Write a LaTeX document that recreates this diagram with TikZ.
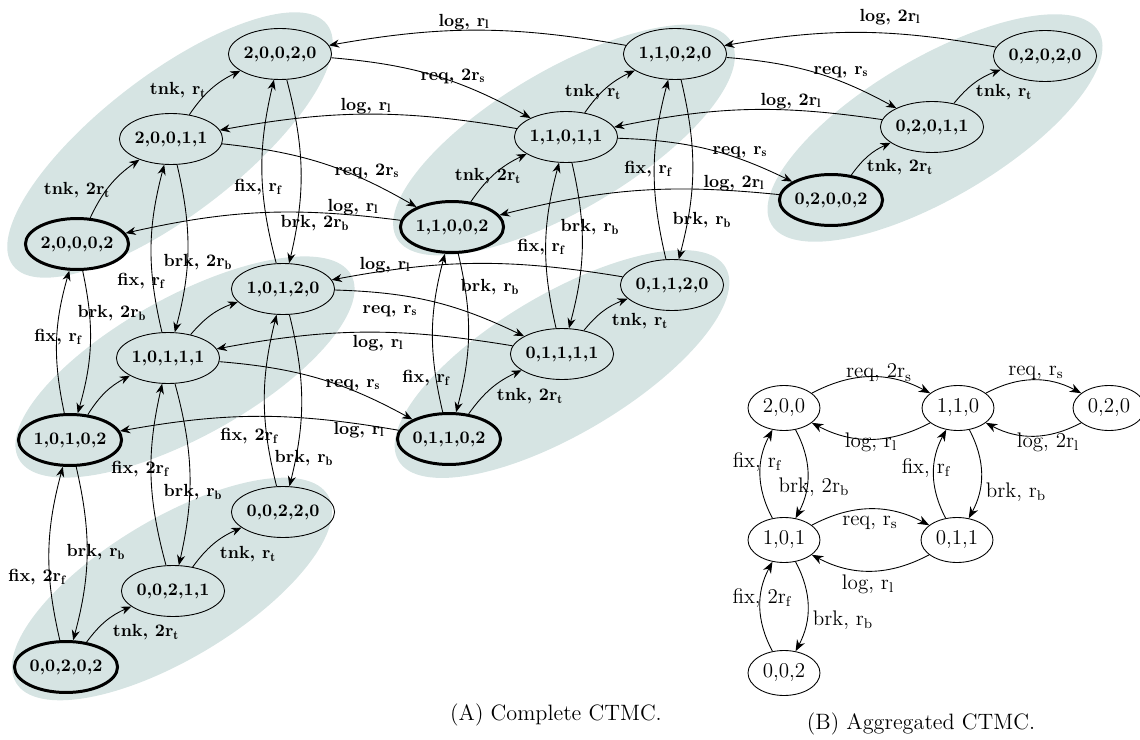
\documentclass[tikz,border=0pt]{standalone}
\usepackage{fontspec}
\usetikzlibrary{arrows.meta,shapes.geometric}
\definecolor{blobc}{RGB}{214,228,227}
\newcommand{\elab}[3]{#1, #2r$_{\mathbf{#3}}$}
\newcommand{\alab}[3]{#1, #2r$_{\mathrm{#3}}$}
\begin{document}
\begin{tikzpicture}[x=0.02cm, y=-0.02cm,
  st/.style={ellipse, draw, line width=0.5pt, minimum width=1.92cm, minimum height=1.02cm, inner sep=0pt, font=\bfseries},
  stb/.style={st, line width=1.7pt},
  ag/.style={ellipse, draw, line width=0.5pt, minimum width=1.44cm, minimum height=0.9cm, inner sep=0pt, font=\fontsize{12}{14}\selectfont},
  tr/.style={-{Stealth[length=5.8pt,width=4.6pt]}, line width=0.5pt},
  atr/.style={-{Stealth[length=6.5pt,width=5pt]}, line width=0.5pt},
  lb/.style={font=\bfseries, inner sep=0pt},
  alb/.style={font=\fontsize{12}{14}\selectfont, inner sep=0pt},
  captxt/.style={font=\fontsize{12.65}{15}\selectfont, inner sep=0pt},
  blob/.style={fill=blobc}]
\useasboundingbox (0,0) rectangle (1140,740);
% background groups
\fill[blob, rotate around={37.5:(170,145)}] (170,145) ellipse [x radius=3.96cm, y radius=1.4cm];
\fill[blob, rotate around={30.5:(564,140)}] (564,140) ellipse [x radius=3.88cm, y radius=1.4cm];
\fill[blob, rotate around={30.5:(935,128)}] (935,128) ellipse [x radius=3.8cm, y radius=1.4cm];
\fill[blob, rotate around={29:(185,367)}] (185,367) ellipse [x radius=3.8cm, y radius=1.4cm];
\fill[blob, rotate around={30.6:(562,364)}] (562,364) ellipse [x radius=3.8cm, y radius=1.4cm];
\fill[blob, rotate around={31:(172,589)}] (172,589) ellipse [x radius=3.64cm, y radius=1.4cm];
% complete CTMC states
\node[st]  (a20020) at (280,54)  {2,0,0,2,0};
\node[st]  (a20011) at (171,139) {2,0,0,1,1};
\node[stb] (a20002) at (77,244)  {2,0,0,0,2};
\node[st]  (a11020) at (675,54)  {1,1,0,2,0};
\node[st]  (a11011) at (566,137) {1,1,0,1,1};
\node[stb] (a11002) at (452,227) {1,1,0,0,2};
\node[st]  (a02020) at (1045,56) {0,2,0,2,0};
\node[st]  (a02011) at (932,127) {0,2,0,1,1};
\node[stb] (a02002) at (831,200) {0,2,0,0,2};
\node[st]  (a10120) at (283,289) {1,0,1,2,0};
\node[st]  (a10111) at (168,358) {1,0,1,1,1};
\node[stb] (a10102) at (70,440)  {1,0,1,0,2};
\node[st]  (a01120) at (672,285) {0,1,1,2,0};
\node[st]  (a01111) at (562,354) {0,1,1,1,1};
\node[stb] (a01102) at (449,439) {0,1,1,0,2};
\node[st]  (a00220) at (283,512) {0,0,2,2,0};
\node[st]  (a00211) at (173,591) {0,0,2,1,1};
\node[stb] (a00202) at (66,667)  {0,0,2,0,2};
% tnk transitions
\draw[tr] (a20002) to[bend left=15] (a20011) node[lb] (l1) at (77,190) {\elab{tnk}{2}{t}};
\draw[tr] (a20011) to[bend left=15] (a20020) node[lb] (l2) at (178,90) {\elab{tnk}{}{t}};
\draw[tr] (a11002) to[bend left=15] (a11011) node[lb] (l3) at (488,176) {\elab{tnk}{2}{t}};
\draw[tr] (a11011) to[bend left=15] (a11020) node[lb] (l4) at (593,92) {\elab{tnk}{}{t}};
\draw[tr] (a02002) to[bend left=15] (a02011) node[lb] (l5) at (900,167) {\elab{tnk}{2}{t}};
\draw[tr] (a02011) to[bend left=15] (a02020) node[lb] (l6) at (1004,92) {\elab{tnk}{}{t}};
\draw[tr] (a10102) to[bend left=15] (a10111);
\draw[tr] (a10111) to[bend left=15] (a10120);
\draw[tr] (a01102) to[bend left=15] (a01111) node[lb] (l9) at (530,396) {\elab{tnk}{2}{t}};
\draw[tr] (a01111) to[bend left=15] (a01120) node[lb] (l10) at (640,321) {\elab{tnk}{}{t}};
\draw[tr] (a00202) to[bend left=15] (a00211) node[lb] (l11) at (146,632) {\elab{tnk}{2}{t}};
\draw[tr] (a00211) to[bend left=15] (a00220) node[lb] (l12) at (248,554) {\elab{tnk}{}{t}};
% fix / brk transitions
\draw[tr] (a10102) to[bend left=14] (a20002) node[lb] (l13) at (58,337) {\elab{fix}{}{f}};
\draw[tr] (a20002) to[bend left=14] (a10102) node[lb] (l14) at (112,313) {\elab{brk}{2}{b}};
\draw[tr] (a10111) to[bend left=14] (a20011) node[lb] (l15) at (141,281) {\elab{fix}{}{f}};
\draw[tr] (a20011) to[bend left=14] (a10111) node[lb] (l16) at (198,262) {\elab{brk}{2}{b}};
\draw[tr] (a10120) to[bend left=14] (a20020) node[lb] (l17) at (258,187) {\elab{fix}{}{f}};
\draw[tr] (a20020) to[bend left=14] (a10120) node[lb] (l18) at (315,223) {\elab{brk}{2}{b}};
\draw[tr] (a01102) to[bend left=14] (a11002) node[lb] (l19) at (426,378) {\elab{fix}{}{f}};
\draw[tr] (a11002) to[bend left=14] (a01102) node[lb] (l20) at (490,287) {\elab{brk}{}{b}};
\draw[tr] (a01111) to[bend left=14] (a11011) node[lb] (l21) at (541,247) {\elab{fix}{}{f}};
\draw[tr] (a11011) to[bend left=14] (a01111) node[lb] (l22) at (590,227) {\elab{brk}{}{b}};
\draw[tr] (a01120) to[bend left=14] (a11020) node[lb] (l23) at (648,169) {\elab{fix}{}{f}};
\draw[tr] (a11020) to[bend left=14] (a01120) node[lb] (l24) at (702,220) {\elab{brk}{}{b}};
\draw[tr] (a00202) to[bend left=14] (a10102) node[lb] (l25) at (37,577) {\elab{fix}{2}{f}};
\draw[tr] (a10102) to[bend left=14] (a00202) node[lb] (l26) at (96,552) {\elab{brk}{}{b}};
\draw[tr] (a00211) to[bend left=14] (a10111) node[lb] (l27) at (140,469) {\elab{fix}{2}{f}};
\draw[tr] (a10111) to[bend left=14] (a00211) node[lb] (l28) at (193,492) {\elab{brk}{}{b}};
\draw[tr] (a00220) to[bend left=14] (a10120) node[lb] (l29) at (249,436) {\elab{fix}{2}{f}};
\draw[tr] (a10120) to[bend left=14] (a00220) node[lb] (l30) at (304,458) {\elab{brk}{}{b}};
% req / log transitions
\draw[tr] (a20020) to[bend left=12] (a11011) node[lb] (l31) at (453,76) {\elab{req}{2}{s}};
\draw[tr] (a11020) to[bend right=10] (a20020) node[lb] (l32) at (464,22) {\elab{log}{}{l}};
\draw[tr] (a20011) to[bend left=12] (a11002) node[lb] (l33) at (367,171) {\elab{req}{2}{s}};
\draw[tr] (a11011) to[bend right=10] (a20011) node[lb] (l34) at (366,106) {\elab{log}{}{l}};
\draw[tr] (a11002) to[bend right=10] (a20002) node[lb] (l35) at (353,207) {\elab{log}{}{l}};
\draw[tr] (a11020) to[bend left=12] (a02011) node[lb] (l36) at (841,72) {\elab{req}{}{s}};
\draw[tr] (a02020) to[bend right=10] (a11020) node[lb] (l37) at (890,17) {\elab{log}{2}{l}};
\draw[tr] (a11011) to[bend left=12] (a02002) node[lb] (l38) at (740,152) {\elab{req}{}{s}};
\draw[tr] (a02011) to[bend right=10] (a11011) node[lb] (l39) at (791,101) {\elab{log}{2}{l}};
\draw[tr] (a02002) to[bend right=10] (a11002) node[lb] (l40) at (734,183) {\elab{log}{2}{l}};
\draw[tr] (a10120) to[bend left=12] (a01111) node[lb] (l41) at (390,311) {\elab{req}{}{s}};
\draw[tr] (a01120) to[bend right=10] (a10120) node[lb] (l42) at (385,265) {\elab{log}{}{l}};
\draw[tr] (a10111) to[bend left=12] (a01102) node[lb] (l43) at (353,385) {\elab{req}{}{s}};
\draw[tr] (a01111) to[bend right=10] (a10111) node[lb] (l44) at (378,343) {\elab{log}{}{l}};
\draw[tr] (a01102) to[bend right=10] (a10102) node[lb] (l45) at (359,430) {\elab{log}{}{l}};
% aggregated CTMC
\node[ag] (b200) at (784,408) {2,0,0};
\node[ag] (b110) at (958,408) {1,1,0};
\node[ag] (b020) at (1109,408) {0,2,0};
\node[ag] (b101) at (784,540) {1,0,1};
\node[ag] (b011) at (957,540) {0,1,1};
\node[ag] (b002) at (784,673) {0,0,2};
\draw[atr] (b200) to[bend left=28] (b110) node[alb] (m1) at (879,373) {\alab{req}{2}{s}};
\draw[atr] (b110) to[bend left=28] (b200) node[alb] (m2) at (871,442) {\alab{log}{}{l}};
\draw[atr] (b110) to[bend left=28] (b020) node[alb] (m3) at (1036,373) {\alab{req}{}{s}};
\draw[atr] (b020) to[bend left=28] (b110) node[alb] (m4) at (1048,442) {\alab{log}{2}{l}};
\draw[atr] (b101) to[bend left=28] (b200) node[alb] (m5) at (757,462) {\alab{fix}{}{f}};
\draw[atr] (b200) to[bend left=28] (b101) node[alb] (m6) at (814,487) {\alab{brk}{2}{b}};
\draw[atr] (b011) to[bend left=28] (b110) node[alb] (m7) at (926,468) {\alab{fix}{}{f}};
\draw[atr] (b110) to[bend left=28] (b011) node[alb] (m8) at (1016,492) {\alab{brk}{}{b}};
\draw[atr] (b101) to[bend left=28] (b011) node[alb] (m9) at (870,523) {\alab{req}{}{s}};
\draw[atr] (b011) to[bend left=28] (b101) node[alb] (m10) at (868,584) {\alab{log}{}{l}};
\draw[atr] (b002) to[bend left=28] (b101) node[alb] (m11) at (762,598) {\alab{fix}{2}{f}};
\draw[atr] (b101) to[bend left=28] (b002) node[alb] (m12) at (843,620) {\alab{brk}{}{b}};
% captions
\node[captxt] (capA) at (556,715) {(A) Complete CTMC.};
\node[captxt] (capB) at (921,724) {(B) Aggregated CTMC.};
\end{tikzpicture}
\end{document}
